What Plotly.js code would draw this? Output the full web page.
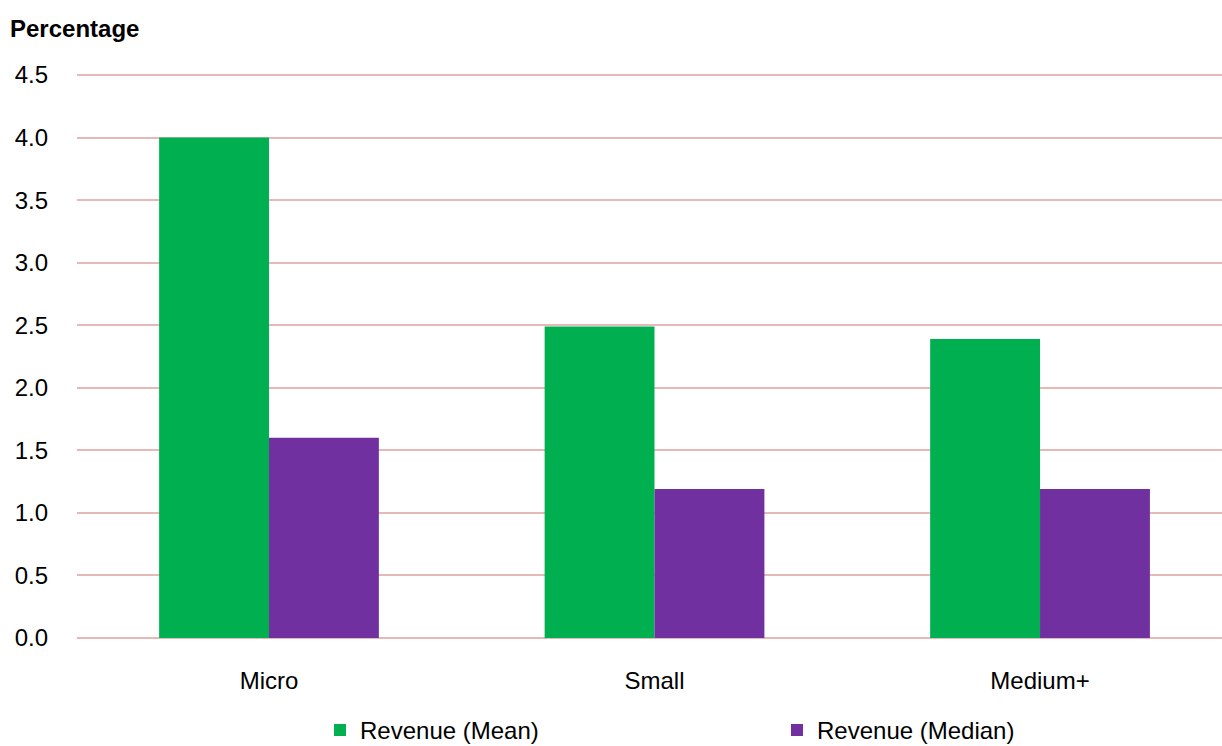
<!DOCTYPE html>
<html>
<head>
<meta charset="utf-8">
<script src="https://cdn.plot.ly/plotly-3.0.1.min.js"></script>
<style>html,body{margin:0;padding:0;background:#fff;}#chart{width:1222px;height:746px;}</style>
</head>
<body>
<div id="chart"></div>
<script>
var categories = ["Micro", "Small", "Medium+"];
var seriesNames = ["Revenue (Mean)", "Revenue (Median)"];
var meanValues = [4.0, 2.49, 2.39];
var medianValues = [1.6, 1.19, 1.19];
var yTickVals = [0, 0.5, 1.0, 1.5, 2.0, 2.5, 3.0, 3.5, 4.0, 4.5];
var yTickText = ["0.0", "0.5", "1.0", "1.5", "2.0", "2.5", "3.0", "3.5", "4.0", "4.5"];

var FONT = '"Liberation Sans Narrow", "Liberation Sans", Arial, sans-serif';
var FS = 24;

var traces = [
  {type: 'bar', name: seriesNames[0], x: categories, y: meanValues,
   marker: {color: '#00B050'}, legend: 'legend', hoverinfo: 'none'},
  {type: 'bar', name: seriesNames[1], x: categories, y: medianValues,
   marker: {color: '#7030A0'}, legend: 'legend2', hoverinfo: 'none'}
];

var layout = {
  width: 1222, height: 746,
  margin: {l: 77, r: 0, t: 73, b: 108},
  paper_bgcolor: '#fff', plot_bgcolor: '#fff',
  font: {family: FONT, size: FS, color: '#000'},
  barmode: 'group', bargap: 0.43, bargroupgap: 0,
  showlegend: true,
  title: {text: '<b>Percentage</b>', x: 0, xref: 'container', xanchor: 'left', y: 0.962, yref: 'container', yanchor: 'middle', pad: {l: 10},
          font: {family: FONT, size: FS, color: '#000'}},
  xaxis: {type: 'category', range: [-0.498, 2.472], showgrid: false, zeroline: false, showline: false,
          ticks: '', ticklabelstandoff: 26, tickfont: {family: FONT, size: FS, color: '#000'}},
  yaxis: {range: [0, 4.516], tickvals: yTickVals, ticktext: yTickText, showgrid: true,
          gridcolor: '#E6B9B8', gridwidth: 2, zeroline: true, zerolinecolor: '#E6B9B8', zerolinewidth: 2,
          showline: false, ticks: '', ticklabelstandoff: 28, tickfont: {family: FONT, size: FS, color: '#000'}},
  legend: {orientation: 'h', x: 320 / 1222, xref: 'container', xanchor: 'left', y: 0.021, yref: 'container', yanchor: 'middle',
           font: {family: FONT, size: FS, color: '#000'}, bgcolor: 'rgba(0,0,0,0)', itemwidth: 30},
  legend2: {orientation: 'h', x: 777 / 1222, xref: 'container', xanchor: 'left', y: 0.021, yref: 'container', yanchor: 'middle',
           font: {family: FONT, size: FS, color: '#000'}, bgcolor: 'rgba(0,0,0,0)', itemwidth: 30}
};

Plotly.newPlot('chart', traces, layout, {displayModeBar: false, staticPlot: true});
</script>
</body>
</html>
